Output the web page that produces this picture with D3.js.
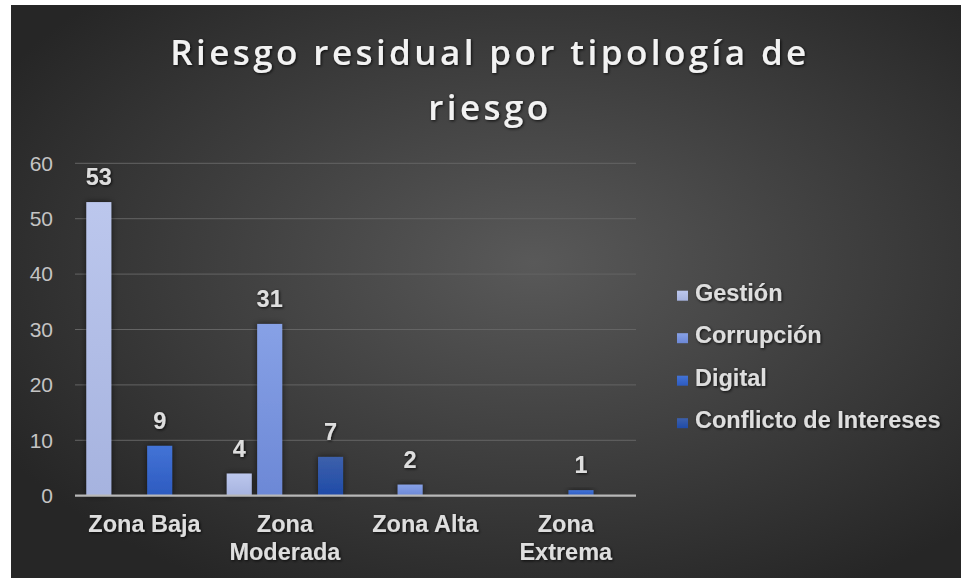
<!DOCTYPE html>
<html>
<head>
<meta charset="utf-8">
<style type="text/css">
body{
	margin: 0;
	background: #fff;
}
svg{
	display: block;
}
text{
	font-family: "Liberation Sans", Arial, sans-serif;
}
</style>
</head>
<body>
  <script src="https://d3js.org/d3.v7.min.js"></script>
  <script>
    // data (null = empty cell, no bar / no label)
    var categorias = ["Zona Baja", "Zona Moderada", "Zona Alta", "Zona Extrema"];
    var series = ["Gestión", "Corrupción", "Digital", "Conflicto de Intereses"];
    var gestion = [53, 4, null, null];
    var corrupcion = [null, 31, 2, null];
    var digital = [9, null, null, 1];
    var conflicto = [null, 7, null, null];
    var yTicks = [0, 10, 20, 30, 40, 50, 60];
    var titulo = ["Riesgo residual por tipología de", "riesgo"];

    var valores = [gestion, corrupcion, digital, conflicto];
    var colores = [
      {top: "#bcc7ed", bot: "#a6b3df"},
      {top: "#87a1e6", bot: "#6c88d6"},
      {top: "#4373d6", bot: "#2d5bc0"},
      {top: "#3d60ab", bot: "#1f4ba8"}
    ];

    var W = 961, H = 578;
    var plot = {left: 75, right: 636, top: 163.3, bottom: 495.7};

    var svg = d3.select("body").append("svg")
        .attr("width", W)
        .attr("height", H);

    var defs = svg.append("defs");

    var bg = defs.append("radialGradient")
        .attr("id", "bg")
        .attr("cx", "55%").attr("cy", "45%").attr("r", "65%");
    bg.append("stop").attr("offset", "0%").attr("stop-color", "#595959");
    bg.append("stop").attr("offset", "100%").attr("stop-color", "#262626");

    colores.forEach(function(c, i){
      var g = defs.append("linearGradient")
          .attr("id", "bar" + i)
          .attr("x1", 0).attr("y1", 0).attr("x2", 0).attr("y2", 1);
      g.append("stop").attr("offset", "0%").attr("stop-color", c.top);
      g.append("stop").attr("offset", "100%").attr("stop-color", c.bot);
    });

    var sombra = defs.append("filter").attr("id", "sombra")
        .attr("x", "-50%").attr("y", "-50%").attr("width", "200%").attr("height", "200%");
    sombra.append("feDropShadow")
        .attr("dx", 0).attr("dy", 0).attr("stdDeviation", 3)
        .attr("flood-color", "#000").attr("flood-opacity", 0.6);

    var sombraTxt = defs.append("filter").attr("id", "sombraTxt")
        .attr("x", "-20%").attr("y", "-40%").attr("width", "140%").attr("height", "180%");
    sombraTxt.append("feDropShadow")
        .attr("dx", 1).attr("dy", 1).attr("stdDeviation", 1.5)
        .attr("flood-color", "#000").attr("flood-opacity", 0.8);

    // chart area
    svg.append("rect")
        .attr("x", 11).attr("y", 5)
        .attr("width", W - 11).attr("height", H - 5)
        .attr("fill", "url(#bg)");

    // title
    var tit = svg.append("text")
        .attr("text-anchor", "middle")
        .attr("fill", "#f2f2f2")
        .attr("filter", "url(#sombraTxt)")
        .style("font-family", "'Open Sans', 'Noto Sans', sans-serif")
        .style("font-size", "35px")
        .style("font-weight", 600);
    tit.selectAll("tspan").data(titulo).enter().append("tspan")
        .attr("x", 490)
        .attr("y", function(d, i){ return 65 + i * 55; })
        .text(function(d){ return d; });
    // spread letters so the first line is as wide as in the picture
    var t0 = tit.select("tspan").node();
    var sp = Math.max(0, (636 - t0.getComputedTextLength()) / (titulo[0].length - 1));
    tit.style("letter-spacing", sp + "px");

    // scales
    var x0 = d3.scaleBand().domain(categorias).range([plot.left - 0.75, plot.right]);
    var x1 = d3.scaleBand().domain(series).range([0, x0.bandwidth()])
        .paddingInner(0.178).paddingOuter(0.396);
    var y = d3.scaleLinear().domain([0, 60]).range([plot.bottom, plot.top]);

    // gridlines
    svg.append("g").selectAll("line").data(yTicks.slice(1)).enter().append("line")
        .attr("x1", plot.left).attr("x2", plot.right)
        .attr("y1", function(d){ return y(d); })
        .attr("y2", function(d){ return y(d); })
        .attr("stroke", "#646464").attr("stroke-width", 1);

    // y axis labels
    var yAxis = svg.append("g")
        .attr("transform", "translate(" + (plot.left - 22) + ",0)")
        .call(d3.axisLeft(y).tickValues(yTicks).tickSize(0).tickPadding(0));
    yAxis.select(".domain").remove();
    yAxis.selectAll("text")
        .attr("fill", "#c4c4c4")
        .style("font-family", "'Liberation Sans', Arial, sans-serif")
        .style("font-size", "21px");

    // bars
    var grupos = svg.append("g").selectAll("g").data(categorias).enter().append("g")
        .attr("transform", function(d){ return "translate(" + x0(d) + ",0)"; });

    grupos.each(function(cat, ci){
      var g = d3.select(this);
      var filas = series.map(function(s, si){ return {s: s, si: si, v: valores[si][ci]}; })
          .filter(function(d){ return d.v != null; });
      g.selectAll("rect").data(filas).enter().append("rect")
          .attr("x", function(d){ return x1(d.s); })
          .attr("y", function(d){ return y(d.v); })
          .attr("width", x1.bandwidth())
          .attr("height", function(d){ return y(0) - y(d.v); })
          .attr("fill", function(d){ return "url(#bar" + d.si + ")"; })
          .attr("filter", "url(#sombra)");
      g.selectAll("text").data(filas).enter().append("text")
          .attr("x", function(d){ return x1(d.s) + x1.bandwidth() / 2; })
          .attr("y", function(d){ return y(d.v) - 17; })
          .attr("text-anchor", "middle")
          .attr("fill", "#dedede")
          .attr("filter", "url(#sombraTxt)")
          .style("font-size", "23.5px")
          .style("font-weight", "bold")
          .text(function(d){ return d.v; });
    });

    // baseline
    svg.append("line")
        .attr("x1", plot.left).attr("x2", plot.right)
        .attr("y1", y(0)).attr("y2", y(0))
        .attr("stroke", "#b8b8b8").attr("stroke-width", 2.2);

    // x labels, wrapped when wider than the band
    var xl = svg.append("g").selectAll("text").data(categorias).enter().append("text")
        .attr("text-anchor", "middle")
        .attr("fill", "#dedede")
        .attr("filter", "url(#sombraTxt)")
        .style("font-size", "23.5px")
        .style("font-weight", "bold");
    xl.each(function(d){
      var t = d3.select(this);
      var cx = x0(d) + x0.bandwidth() / 2;
      var tmp = t.append("tspan").text(d);
      var lines = tmp.node().getComputedTextLength() > x0.bandwidth() - 10 ? d.split(" ") : [d];
      tmp.remove();
      lines.forEach(function(l, i){
        t.append("tspan").attr("x", cx).attr("y", 531.7 + i * 28.3).text(l);
      });
    });

    // legend
    var leg = svg.append("g").selectAll("g").data(series).enter().append("g")
        .attr("transform", function(d, i){ return "translate(677," + (300.7 + i * 42.5) + ")"; });
    leg.append("rect")
        .attr("x", 0).attr("y", -10)
        .attr("width", 11).attr("height", 10)
        .attr("fill", function(d, i){ return "url(#bar" + i + ")"; });
    leg.append("text")
        .attr("x", 18)
        .attr("fill", "#dedede")
        .attr("filter", "url(#sombraTxt)")
        .style("font-size", "23.5px")
        .style("font-weight", "bold")
        .text(function(d){ return d; });
  </script>
</body>
</html>
